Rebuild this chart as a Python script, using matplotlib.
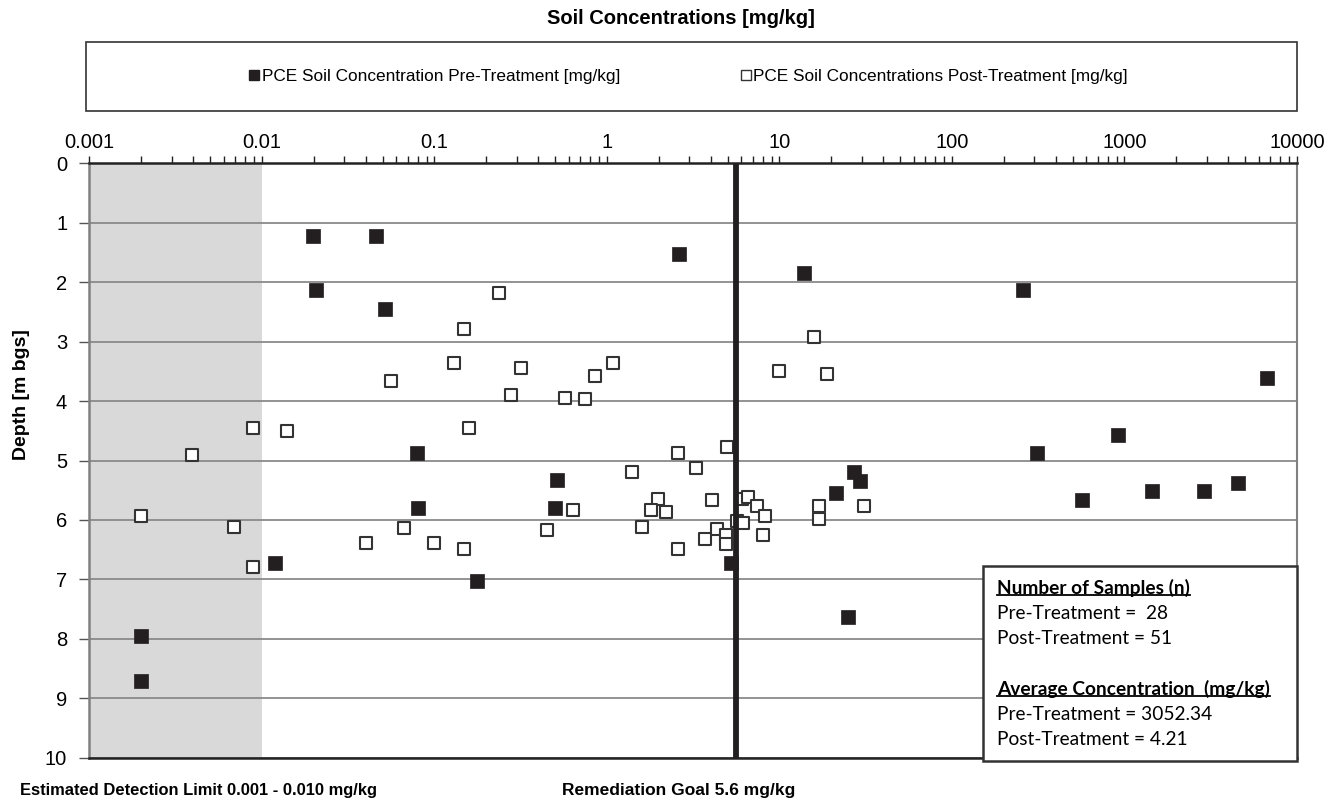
import matplotlib
matplotlib.use('Agg')
import matplotlib.pyplot as plt
from matplotlib.lines import Line2D
from matplotlib.patches import Rectangle
from matplotlib.ticker import LogLocator, FixedLocator, NullFormatter

plt.rcParams['font.family'] = ['Liberation Sans', 'DejaVu Sans']

# pre-treatment samples: concentration [mg/kg], depth [m bgs]
pre_conc = [0.0198, 0.0456, 0.0207, 0.052, 0.0795, 2.6, 13.9, 259, 6700, 914,
            311, 571, 1445, 2877, 4550, 0.511, 0.5, 5.24, 25.1, 27, 29.3, 21.2,
            0.002, 0.002, 0.0119, 0.177, 0.0805]
pre_depth = [1.23, 1.23, 2.14, 2.45, 4.88, 1.53, 1.84, 2.14, 3.61, 4.57,
             4.88, 5.66, 5.51, 5.51, 5.38, 5.32, 5.80, 6.72, 7.63, 5.19, 5.34, 5.55,
             7.95, 8.71, 6.72, 7.03, 5.80]

# post-treatment samples
post_conc = [0.238, 0.148, 0.130, 0.317, 0.0557, 0.277, 0.00887, 0.0139, 0.159, 0.00394,
             15.9, 9.94, 18.8, 1.088, 0.855, 0.573, 0.748, 2.59, 4.98, 1.39,
             3.27, 0.638, 0.447, 1.98, 1.79, 2.19, 1.59, 4.08, 2.59, 3.70,
             4.36, 4.88, 4.88, 5.65, 6.17, 6.09, 6.59, 7.43, 8.24, 7.99,
             16.9, 16.9, 31, 0.00199, 0.00689, 0.00887, 0.0399, 0.0665, 0.0993, 0.148]
post_depth = [2.18, 2.79, 3.36, 3.44, 3.67, 3.89, 4.45, 4.50, 4.45, 4.91,
              2.93, 3.49, 3.55, 3.36, 3.58, 3.94, 3.96, 4.88, 4.78, 5.19,
              5.13, 5.83, 6.17, 5.64, 5.83, 5.86, 6.11, 5.67, 6.48, 6.32,
              6.16, 6.25, 6.40, 6.02, 6.05, 5.64, 5.62, 5.76, 5.93, 6.26,
              5.76, 5.98, 5.76, 5.93, 6.11, 6.79, 6.38, 6.14, 6.38, 6.48]

x_ticks = [0.001, 0.01, 0.1, 1, 10, 100, 1000, 10000]
x_labels = ['0.001', '0.01', '0.1', '1', '10', '100', '1000', '10000']
y_ticks = list(range(0, 11))

detect_lo, detect_hi = 0.001, 0.01
goal = 5.6

dark = '#231f20'

fig = plt.figure(figsize=(13.29, 8.0), dpi=100)
ax = fig.add_axes([0.0673, 0.0528, 0.9086, 0.7431])

ax.axvspan(detect_lo, detect_hi, color='#d9d9d9', zorder=0, lw=0)
ax.set_xscale('log')
ax.set_xlim(0.001, 10000)
ax.set_ylim(10, 0)

ax.scatter(pre_conc, pre_depth, marker='s', s=95, c=dark, edgecolors=dark,
           linewidths=0.5, zorder=4, clip_on=False)
ax.scatter(post_conc, post_depth, marker='s', s=78, facecolors='white',
           edgecolors='#333333', linewidths=1.5, zorder=3, clip_on=False)
ax.axvline(goal, color=dark, lw=4.2, zorder=5)

ax.set_axisbelow(True)
ax.yaxis.grid(True, color='#8a8a8a', lw=1.3)
ax.set_yticks(y_ticks)

ax.xaxis.tick_top()
ax.xaxis.set_major_locator(FixedLocator(x_ticks))
ax.set_xticklabels(x_labels)
ax.xaxis.set_minor_locator(LogLocator(base=10, subs=range(2, 10), numticks=20))
ax.xaxis.set_minor_formatter(NullFormatter())
ax.tick_params(axis='x', which='both', direction='out', length=5, width=1,
               colors='#222222', labelsize=14.5, pad=3)
ax.tick_params(axis='y', direction='out', length=7, width=1, color='#555555',
               labelsize=14.5, pad=9)
ax.tick_params(axis='x', labelcolor='black')

ax.spines['top'].set_color('#222222')
ax.spines['top'].set_linewidth(1.8)
ax.spines['bottom'].set_color('#222222')
ax.spines['bottom'].set_linewidth(1.8)
ax.spines['left'].set_color('#808080')
ax.spines['left'].set_linewidth(1.8)
ax.spines['right'].set_color('#808080')
ax.spines['right'].set_linewidth(1.5)

fig.text(22 / 1329, 1 - 395 / 800, 'Depth [m bgs]', rotation=90, ha='center',
         va='center', fontsize=14, fontweight='bold')

fig.text(0.5125, 0.977, 'Soil Concentrations [mg/kg]', ha='center', va='center',
         fontsize=14.5, fontweight='bold')

# legend box
fig.patches.append(Rectangle((0.0647, 0.861), 0.9112, 0.0865, transform=fig.transFigure,
                             fill=False, edgecolor='#333333', lw=1.2))
handles = [Line2D([], [], ls='none', marker='s', ms=7, mfc=dark, mec=dark),
           Line2D([], [], ls='none', marker='s', ms=7, mfc='white', mec='#333333', mew=1)]
fig.legend(handles, ['PCE Soil Concentration Pre-Treatment [mg/kg]',
                     'PCE Soil Concentrations Post-Treatment [mg/kg]'],
           loc='center', bbox_to_anchor=(0.518, 0.904), ncol=2, frameon=False,
           fontsize=12.4, handlelength=0.6, handletextpad=0.15, columnspacing=7.0)

fig.text(0.015, 0.012, 'Estimated Detection Limit 0.001 - 0.010 mg/kg', ha='left',
         va='center', fontsize=11.9, fontweight='bold')
fig.text(0.423, 0.012, 'Remediation Goal 5.6 mg/kg', ha='left', va='center',
         fontsize=12.5, fontweight='bold')

# stats box
bx0, by0 = 983 / 1329, 1 - 761 / 800
bw, bh = (1297 - 983) / 1329, (761 - 566) / 800
fig.patches.append(Rectangle((bx0, by0), bw, bh, transform=fig.transFigure,
                             facecolor='white', edgecolor='#333333', lw=1.8, zorder=10))
lines = [('Number of Samples (n)', True), ('Pre-Treatment =  28', False),
         ('Post-Treatment = 51', False), ('', False),
         ('Average Concentration  (mg/kg)', True), ('Pre-Treatment = 3052.34', False),
         ('Post-Treatment = 4.21', False)]
tx = 997 / 1329
heads = []
for i, (s, bold) in enumerate(lines):
    ty = 1 - (588 + i * 25.2) / 800
    t = fig.text(tx, ty, s, ha='left', va='center', fontsize=13.8,
                 fontweight='bold' if bold else 'normal', family=['Lato', 'DejaVu Sans'],
                 zorder=11)
    if bold:
        heads.append(t)

fig.canvas.draw()
r = fig.canvas.get_renderer()
for t in heads:
    bb = t.get_window_extent(r).transformed(fig.transFigure.inverted())
    fig.add_artist(Line2D([bb.x0, bb.x1], [bb.y0 + 0.002, bb.y0 + 0.002],
                          transform=fig.transFigure, color='black', lw=1.3, zorder=11))

fig.savefig('out.png', dpi=100)
